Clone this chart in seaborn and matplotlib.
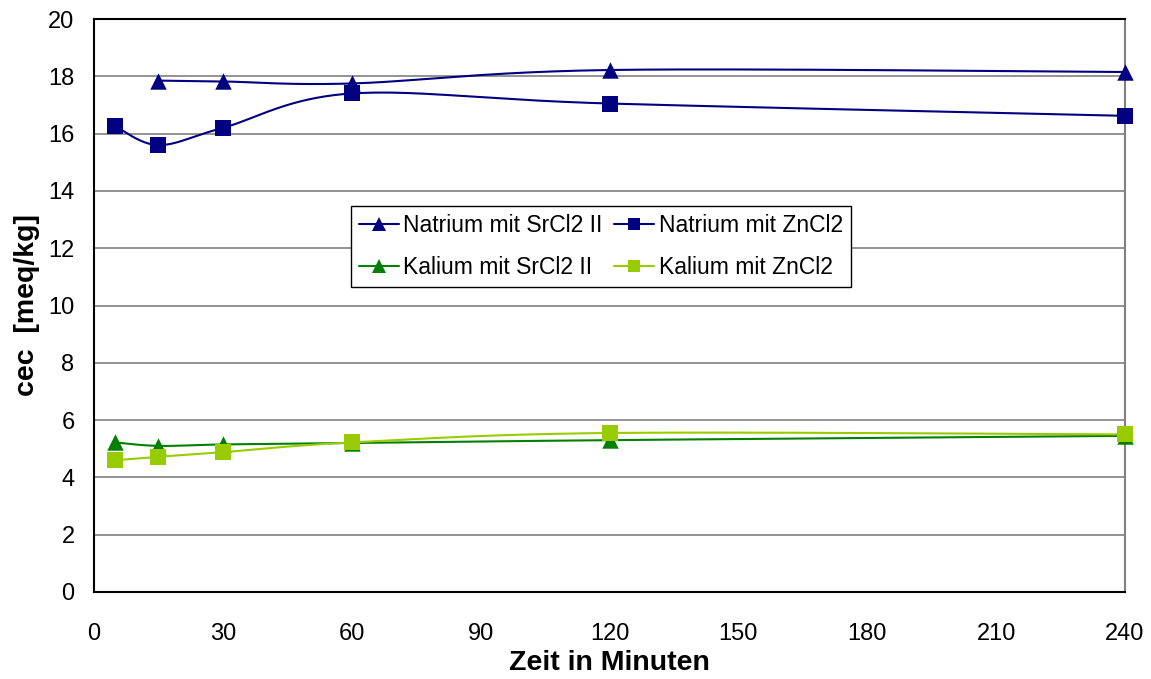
import numpy as np
import pandas as pd
import matplotlib
matplotlib.use("Agg")
import matplotlib.pyplot as plt
import seaborn as sns
from matplotlib.lines import Line2D

# ---- data ----
x_na_sr = [15, 30, 60, 120, 240]
y_na_sr = [17.85, 17.82, 17.75, 18.22, 18.15]

x_na_zn = [5, 15, 30, 60, 120, 240]
y_na_zn = [16.25, 15.6, 16.2, 17.4, 17.05, 16.62]

x_k_sr = [5, 15, 30, 60, 120, 240]
y_k_sr = [5.22, 5.1, 5.15, 5.2, 5.3, 5.45]

x_k_zn = [5, 15, 30, 60, 120, 240]
y_k_zn = [4.6, 4.72, 4.88, 5.22, 5.55, 5.5]

labels = ["Natrium mit SrCl2 II", "Natrium mit ZnCl2",
          "Kalium mit SrCl2 II", "Kalium mit ZnCl2"]
colors = ["#000080", "#000080", "#008000", "#99CC00"]
markers = ["^", "s", "^", "s"]
xticks = [0, 30, 60, 90, 120, 150, 180, 210, 240]
yticks = list(range(0, 21, 2))


def smooth(xs, ys, n=40):
    """Excel-like smoothed line (Bezier with Catmull-Rom control points)."""
    P = np.column_stack([xs, ys]).astype(float)
    m = len(P)
    out = [P[0]]
    t = np.linspace(0, 1, n)[1:, None]
    for i in range(m - 1):
        p0 = P[i - 1] if i > 0 else P[i]
        p1, p2 = P[i], P[i + 1]
        p3 = P[i + 2] if i + 2 < m else P[i + 1]
        c1 = p1 + (p2 - p0) / 6.0
        c2 = p2 - (p3 - p1) / 6.0
        seg = ((1 - t) ** 3) * p1 + 3 * ((1 - t) ** 2) * t * c1 + 3 * (1 - t) * t ** 2 * c2 + t ** 3 * p2
        out.extend(seg)
    out = np.array(out)
    return out[:, 0], out[:, 1]


series = [(x_na_sr, y_na_sr), (x_na_zn, y_na_zn), (x_k_sr, y_k_sr), (x_k_zn, y_k_zn)]

sns.set_theme(style="white")
plt.rcParams["font.family"] = ["Liberation Sans", "DejaVu Sans"]
plt.rcParams["text.color"] = "black"
plt.rcParams["axes.labelcolor"] = "black"

fig = plt.figure(figsize=(11.51, 6.79), dpi=100)
ax = fig.add_axes([94 / 1151, 1 - 592 / 679, (1125 - 94) / 1151, (592 - 19) / 679])

handles = []
for (xs, ys), lab, c, mk in zip(series, labels, colors, markers):
    sx, sy = smooth(xs, ys)
    dfl = pd.DataFrame({"x": sx, "y": sy})
    sns.lineplot(data=dfl, x="x", y="y", sort=False, estimator=None, ax=ax,
                 color=c, linewidth=1.5, zorder=3)
    dfp = pd.DataFrame({"x": xs, "y": ys})
    ms = 140 if mk == "^" else 120
    sns.scatterplot(data=dfp, x="x", y="y", marker=mk, s=ms, color=c,
                    edgecolor=c, linewidth=0, ax=ax, zorder=4, clip_on=False)
    handles.append(Line2D([0], [0], color=c, lw=1.5, marker=mk,
                          markersize=10 if mk == "^" else 9, markeredgewidth=0))

ax.set_xlim(0, 240)
ax.set_ylim(0, 20)
ax.set_xticks(xticks)
ax.set_yticks(yticks)
ax.tick_params(axis="both", which="major", labelsize=17, direction="out",
               length=6, width=1, color="black", labelcolor="black", pad=8)
ax.tick_params(axis="x", pad=16)
ax.yaxis.grid(True, color="#808080", linewidth=1.2)
ax.xaxis.grid(False)
ax.set_axisbelow(True)

for side in ["left", "bottom", "top"]:
    ax.spines[side].set_color("black")
    ax.spines[side].set_linewidth(1.5)
ax.spines["right"].set_color("#808080")
ax.spines["right"].set_linewidth(1.5)
for s in ax.spines.values():
    s.set_visible(True)

ax.set_xlabel("Zeit in Minuten", fontsize=20.5, fontweight="bold", labelpad=4,
              color="black")
ax.set_ylabel("cec  [meq/kg]", fontsize=20.5, fontweight="bold", labelpad=6,
              color="black")

# column-wise fill order so rows read: Natrium..., Kalium...
order = [0, 2, 1, 3]
leg = ax.legend([handles[i] for i in order], [labels[i] for i in order],
                ncol=2, loc="upper left",
                bbox_to_anchor=(0.249, 0.674), fontsize=16.5, frameon=True,
                fancybox=False, edgecolor="black", framealpha=1,
                handlelength=1.75, handletextpad=0.2, columnspacing=0.5,
                borderpad=0.35, labelspacing=0.85, borderaxespad=0)
leg.get_frame().set_linewidth(1.0)
for t in leg.get_texts():
    t.set_color("black")

fig.savefig("out.png", dpi=100)
